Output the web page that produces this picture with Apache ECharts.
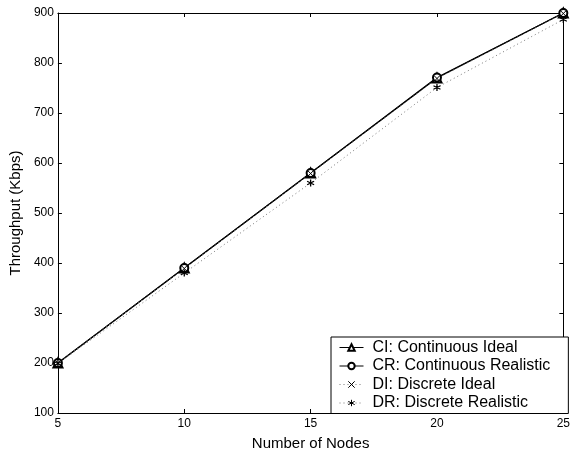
<!DOCTYPE html>
<html>
<head>
<meta charset="utf-8">
<script src="https://cdn.jsdelivr.net/npm/echarts@6/dist/echarts.min.js"></script>
<style>
  html, body { margin: 0; padding: 0; background: #fff; }
  #main { width: 573px; height: 456px; }
</style>
</head>
<body>
<div id="main"></div>
<script>
// 吞吐量 vs 节点数
var nodes = [5, 10, 15, 20, 25];
var ciData = [200, 390, 580, 770, 900];
var crData = [200, 390, 580, 771, 900];
var diData = [200, 389, 579, 769, 899];
var drData = [199, 380, 560, 751, 887];

var crossPath = 'path://M0,0L10,10M10,0L0,10';
var starPath = 'path://M5,0L5,10M0.7,2.5L9.3,7.5M0.7,7.5L9.3,2.5';

function pairs(ys) {
    return nodes.map(function (x, i) { return [x, ys[i]]; });
}

var chart = echarts.init(document.getElementById('main'));
var axisFont = 'Liberation Sans, Arial, Helvetica, sans-serif';

option = {
    animation: false,
    backgroundColor: '#fff',
    grid: {
        left: 54,
        right: 7,
        top: 13,
        bottom: 37
    },
    legend: {
        orient: 'vertical',
        left: 331,
        top: 337,
        padding: [2, 18, 2, 8],
        itemWidth: 24,
        itemHeight: 8,
        itemGap: 1.5,
        borderColor: '#000',
        borderWidth: 1,
        backgroundColor: '#fff',
        lineStyle: { width: 1 },
        itemStyle: { borderWidth: 1 },
        textStyle: {
            color: '#000',
            fontSize: 16,
            lineHeight: 17,
            fontFamily: axisFont,
            padding: [0, 0, 0, 4]
        },
        data: ['CI: Continuous Ideal', 'CR: Continuous Realistic', 'DI: Discrete Ideal', 'DR: Discrete Realistic']
    },
    xAxis: [{
        type: 'value',
        min: 5,
        max: 25,
        interval: 5,
        name: 'Number of Nodes',
        nameLocation: 'middle',
        nameGap: 23,
        nameTextStyle: { color: '#000', fontSize: 15, fontFamily: axisFont },
        axisLine: { lineStyle: { color: '#000', width: 1 } },
        axisTick: { inside: true, length: 4, lineStyle: { color: '#000' } },
        axisLabel: { color: '#000', fontSize: 12, margin: 5, fontFamily: axisFont },
        splitLine: { show: false }
    }, {
        type: 'value',
        position: 'top',
        min: 5,
        max: 25,
        interval: 5,
        axisLine: { lineStyle: { color: '#000', width: 1 } },
        axisTick: { inside: true, length: 4, lineStyle: { color: '#000' } },
        axisLabel: { show: false },
        splitLine: { show: false }
    }],
    yAxis: [{
        type: 'value',
        min: 100,
        max: 900,
        interval: 100,
        name: 'Throughput (Kbps)',
        nameLocation: 'middle',
        nameGap: 31,
        nameTextStyle: { color: '#000', fontSize: 15, fontFamily: axisFont },
        axisLine: { show: true, lineStyle: { color: '#000', width: 1 } },
        axisTick: { inside: true, length: 4, lineStyle: { color: '#000' } },
        axisLabel: { color: '#000', fontSize: 12, margin: 4, fontFamily: axisFont },
        splitLine: { show: false }
    }, {
        type: 'value',
        position: 'right',
        min: 100,
        max: 900,
        interval: 100,
        axisLine: { show: true, lineStyle: { color: '#000', width: 1 } },
        axisTick: { inside: true, length: 4, lineStyle: { color: '#000' } },
        axisLabel: { show: false },
        splitLine: { show: false }
    }],
    series: [
        {
            name: 'CI: Continuous Ideal',
            type: 'line',
            data: pairs(ciData),
            symbol: 'emptyTriangle',
            symbolSize: 9,
            lineStyle: { color: '#000', width: 1.1 },
            itemStyle: { color: '#000', borderWidth: 1 }
        },
        {
            name: 'CR: Continuous Realistic',
            type: 'line',
            data: pairs(crData),
            symbol: 'emptyCircle',
            symbolSize: 8,
            lineStyle: { color: '#000', width: 1.1 },
            itemStyle: { color: '#000', borderWidth: 1 }
        },
        {
            name: 'DI: Discrete Ideal',
            type: 'line',
            data: pairs(diData),
            symbol: crossPath,
            symbolSize: 5,
            lineStyle: { color: '#777', width: 1, type: [1, 3] },
            itemStyle: { color: 'none', borderColor: '#000', borderWidth: 1 }
        },
        {
            name: 'DR: Discrete Realistic',
            type: 'line',
            data: pairs(drData),
            symbol: starPath,
            symbolSize: 7,
            lineStyle: { color: '#777', width: 1, type: [1, 3] },
            itemStyle: { color: 'none', borderColor: '#000', borderWidth: 1.3 }
        }
    ]
};
chart.setOption(option);
</script>
</body>
</html>
